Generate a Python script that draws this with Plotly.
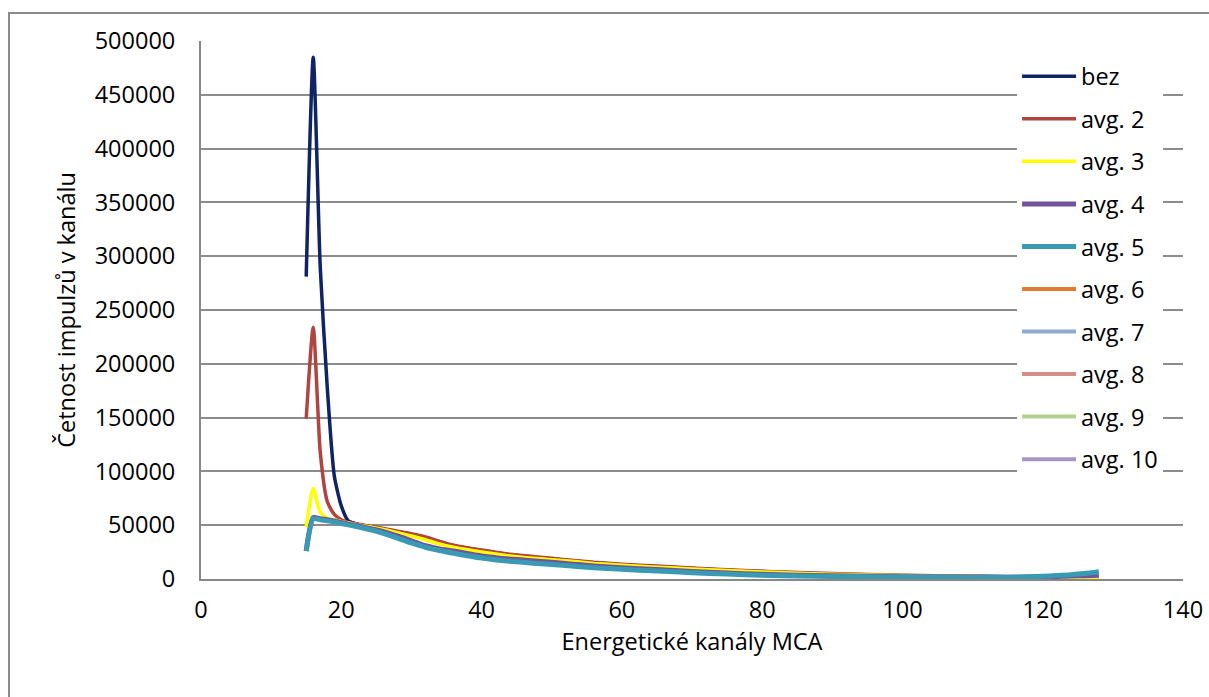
import plotly.graph_objects as go

channels = [15, 16, 17, 18, 19, 20, 21, 22, 24, 26, 28, 30, 32, 34, 36, 40, 44, 48, 52, 56,
            60, 65, 70, 75, 80, 85, 90, 95, 100, 105, 110, 115, 118, 120, 122, 124, 126, 128]

bez = [281000, 485000, 290000, 178000, 96000, 68000, 54000, 51500, 48500, 46500, 44000, 41500,
       38500, 34500, 31000, 26500, 22500, 20000, 17500, 15000, 13300, 11500, 9800, 8200, 6900,
       5700, 4700, 3900, 3300, 2800, 2400, 2100, 1900, 1800, 1700, 1600, 1500, 1400]
avg2 = [149000, 234000, 118000, 72000, 60000, 55000, 52500, 51500, 49000, 47000, 44500, 42000,
        39000, 35000, 31500, 27000, 23000, 20500, 18000, 15500, 13800, 12000, 10200, 8600, 7200,
        6000, 5000, 4200, 3500, 3000, 2500, 2200, 2000, 1900, 1800, 1700, 1600, 1500]
avg3 = [48000, 84000, 62000, 56500, 55000, 53500, 52000, 51000, 48500, 46000, 43000, 40000,
        36500, 32500, 29500, 25000, 21500, 19000, 17000, 14500, 12800, 11000, 9300, 7800, 6500,
        5400, 4500, 3800, 3200, 2700, 2300, 2000, 1800, 1700, 1600, 1500, 1400, 1300]
avg4 = [26000, 57000, 56000, 55000, 54000, 52500, 51000, 50000, 47000, 44000, 40000, 35500,
        31000, 28000, 26000, 21500, 18500, 16500, 14500, 12000, 10500, 8800, 7000, 5600, 4400,
        3500, 3000, 2600, 2200, 2000, 1800, 1700, 1800, 2000, 2300, 2700, 3100, 3500]
avg5 = [26000, 56000, 55000, 54000, 53000, 51500, 50300, 49000, 46000, 42500, 38000, 33500,
        29500, 26500, 24000, 19500, 16500, 14500, 12500, 10500, 9000, 7500, 5800, 4600, 3500,
        2800, 2400, 2100, 1800, 1600, 1500, 1700, 2000, 2500, 3200, 4000, 5200, 6800]

series_names = ["bez", "avg. 2", "avg. 3", "avg. 4", "avg. 5",
                "avg. 6", "avg. 7", "avg. 8", "avg. 9", "avg. 10"]
series_values = [bez, avg2, avg3, avg4, avg5, None, None, None, None, None]
colors = ["#0E2464", "#B0443F", "#FFFF00", "#70539C", "#3A9AB4",
          "#E07B30", "#8EA9D2", "#D48D8B", "#B5CF8E", "#A696C0"]
widths = [3.5, 3.5, 3.5, 5, 5, 4, 4, 4, 4, 4]

x_ticks = [0, 20, 40, 60, 80, 100, 120, 140]
y_ticks = [0, 50000, 100000, 150000, 200000, 250000, 300000, 350000, 400000, 450000, 500000]

FONT = "Open Sans, sans-serif"
FS = 23.5

fig = go.Figure()
for name, vals, col, w in zip(series_names, series_values, colors, widths):
    if vals is None:
        xs, ys = [None], [None]
    else:
        xs, ys = channels, vals
    fig.add_trace(go.Scatter(
        x=xs, y=ys, name=name, mode="lines",
        line=dict(color=col, width=w, shape="spline", smoothing=0.6),
        legendgroup=name,
    ))

fig.update_layout(
    width=1209, height=697,
    margin=dict(l=201, r=26, t=41, b=118),
    paper_bgcolor="white", plot_bgcolor="white",
    font=dict(family=FONT, size=FS, color="black"),
    showlegend=True,
    legend=dict(
        x=0.831, y=0.975, xanchor="left", yanchor="top",
        bgcolor="white", borderwidth=0,
        font=dict(family=FONT, size=FS, color="black"),
        tracegroupgap=9, itemwidth=54,
    ),
    xaxis=dict(
        range=[0, 140], tickvals=x_ticks, ticktext=[str(v) for v in x_ticks],
        showgrid=False, zeroline=False, automargin=False,
        showline=True, linecolor="#878787", linewidth=2,
        ticks="", ticklabelstandoff=9,
        title=dict(text="Energetické kanály MCA", standoff=6,
                   font=dict(family=FONT, size=FS)),
    ),
    yaxis=dict(
        range=[0, 500000], tickvals=y_ticks, ticktext=[str(v) for v in y_ticks],
        showgrid=True, gridcolor="#8C8C8C", gridwidth=1.5,
        zeroline=False, automargin=False,
        showline=True, linecolor="#878787", linewidth=2,
        ticks="", ticklabelstandoff=19,
        title=dict(text="Četnost impulzů v kanálu", standoff=12,
                   font=dict(family=FONT, size=FS)),
    ),
    shapes=[dict(type="rect", xref="paper", yref="paper",
                 x0=(9 - 201) / 982, x1=1.2, y0=-0.5, y1=(579 - 13) / 538,
                 line=dict(color="#8A8A8A", width=2), fillcolor="rgba(0,0,0,0)",
                 layer="below")],
)

fig.write_html("out.html")
